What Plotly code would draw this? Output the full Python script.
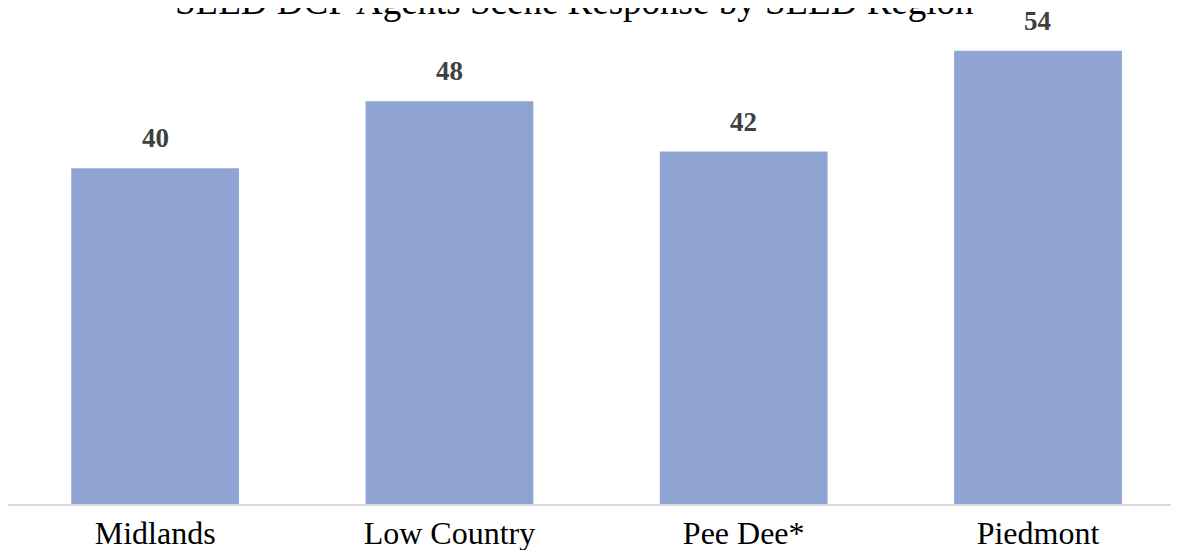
import plotly.graph_objects as go


# =====================================================
# DATA
# =====================================================

regions = ["Midlands", "Low Country", "Pee Dee*", "Piedmont"]
responses = [40, 48, 42, 54]

title_text = "SLED DCF Agents Scene Response by SLED Region"


# =====================================================
# FIGURE
# (page body keeps an 8px margin, so the figure is sized to fit inside it)
# =====================================================

fig = go.Figure(
    go.Bar(
        x=regions,
        y=responses,
        marker_color="#8FA4D2",
        marker_line_width=0,
    )
)

# value labels above the bars
for region, value in zip(regions, responses):
    fig.add_annotation(
        x=region,
        y=value,
        text=f"<b>{value}</b>",
        showarrow=False,
        yanchor="bottom",
        yshift=13,
        font=dict(family="Liberation Serif", size=27, color="#404040"),
    )

# title, partly above the top edge as in the source
fig.add_annotation(
    x=0.4871,
    xref="paper",
    y=1,
    yref="paper",
    xanchor="center",
    yanchor="middle",
    yshift=7,
    text=title_text,
    showarrow=False,
    font=dict(family="Liberation Serif", size=37, color="black"),
)

fig.update_layout(
    width=1163,
    height=542,
    margin=dict(l=0, r=0, t=0, b=46),
    paper_bgcolor="white",
    plot_bgcolor="white",
    bargap=0.43,
    showlegend=False,
    xaxis=dict(
        range=[-0.5, 3.452],
        automargin=False,
        showline=True,
        linecolor="#D9D9D9",
        linewidth=1.5,
        showgrid=False,
        ticks="",
        ticklabelstandoff=0,
        tickfont=dict(family="Liberation Serif", size=32, color="black"),
    ),
    yaxis=dict(
        range=[0, 59.1],
        visible=False,
        showgrid=False,
    ),
)

fig.write_html("out.html")
